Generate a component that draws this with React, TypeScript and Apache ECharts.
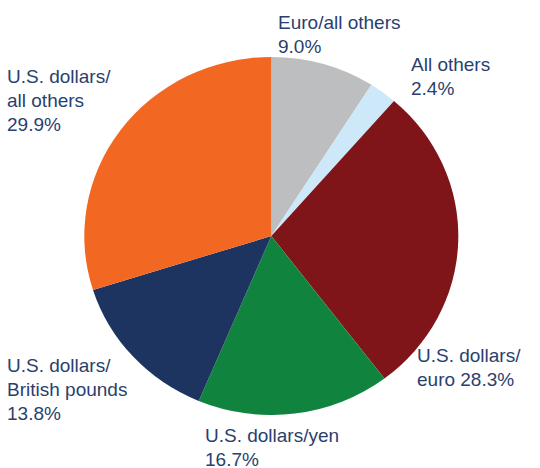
import React, { useEffect, useRef } from "react";
import * as echarts from "echarts";

const categories = [
  "Euro/all others",
  "All others",
  "U.S. dollars/euro",
  "U.S. dollars/yen",
  "U.S. dollars/British pounds",
  "U.S. dollars/all others",
];
const shares = [9.0, 2.4, 28.3, 16.7, 13.8, 29.9];
const labelTexts = [
  "Euro/all others\n9.0%",
  "All others\n2.4%",
  "U.S. dollars/\neuro 28.3%",
  "U.S. dollars/yen\n16.7%",
  "U.S. dollars/\nBritish pounds\n13.8%",
  "U.S. dollars/\nall others\n29.9%",
];
const colors = ["#BDBEC0", "#CDE9F9", "#7F1518", "#10843F", "#1D3461", "#F26722"];
// label anchor (top-left) positions in pixels
const labelPos: [number, number][] = [
  [278, 10],
  [411, 52],
  [417, 343],
  [205, 423],
  [7, 353],
  [7, 64],
];

const CX = 271.3;
const CY = 236;
const R = 183;

export default function App() {
  const pieRef = useRef<HTMLDivElement>(null);
  const labelRef = useRef<HTMLDivElement>(null);
  useEffect(() => {
    if (!pieRef.current || !labelRef.current) return;
    const pie = echarts.init(pieRef.current, undefined, { renderer: "svg" });
    const lab = echarts.init(labelRef.current, undefined, { renderer: "svg" });
    const data = categories.map((name, i) => ({
      name,
      value: shares[i],
      itemStyle: { color: colors[i] },
    }));
    pie.setOption({
      animation: false,
      series: [
        {
          type: "pie",
          center: [CX, CY],
          radius: R,
          startAngle: 90,
          clockwise: true,
          silent: true,
          data,
          itemStyle: { borderWidth: 0 },
          label: { show: false },
          labelLine: { show: false },
        },
      ],
    });
    lab.setOption({
      animation: false,
      series: [
        {
          type: "pie",
          center: [CX, CY],
          radius: R,
          startAngle: 90,
          clockwise: true,
          silent: true,
          avoidLabelOverlap: false,
          data: data.map((d) => ({ ...d, itemStyle: { color: "rgba(0,0,0,0)" } })),
          itemStyle: { borderWidth: 0 },
          label: {
            show: true,
            position: "outside",
            formatter: (p: any) => labelTexts[p.dataIndex],
            color: "#2A3F6E",
            fontFamily: "Liberation Sans, Arial, sans-serif",
            fontSize: 19,
            lineHeight: 24,
            align: "left",
          },
          labelLine: { show: false },
          labelLayout: (p: any) => ({
            x: labelPos[p.dataIndex][0],
            y: labelPos[p.dataIndex][1],
            align: "left",
            verticalAlign: "top",
            hideOverlap: false,
          }),
        },
      ],
    });
    return () => {
      pie.dispose();
      lab.dispose();
    };
  }, []);
  return (
    <div
      style={{
        position: "fixed",
        left: 0,
        top: 0,
        width: 540,
        height: 468,
        background: "#ffffff",
        overflow: "hidden",
      }}
    >
      <div
        ref={pieRef}
        style={{
          position: "absolute",
          left: 0,
          top: 0,
          width: 540,
          height: 468,
          transformOrigin: `${CX}px ${CY}px`,
          transform: `scale(${187 / R}, ${179 / R})`,
        }}
      />
      <div
        ref={labelRef}
        style={{ position: "absolute", left: 0, top: 0, width: 540, height: 468 }}
      />
    </div>
  );
}
